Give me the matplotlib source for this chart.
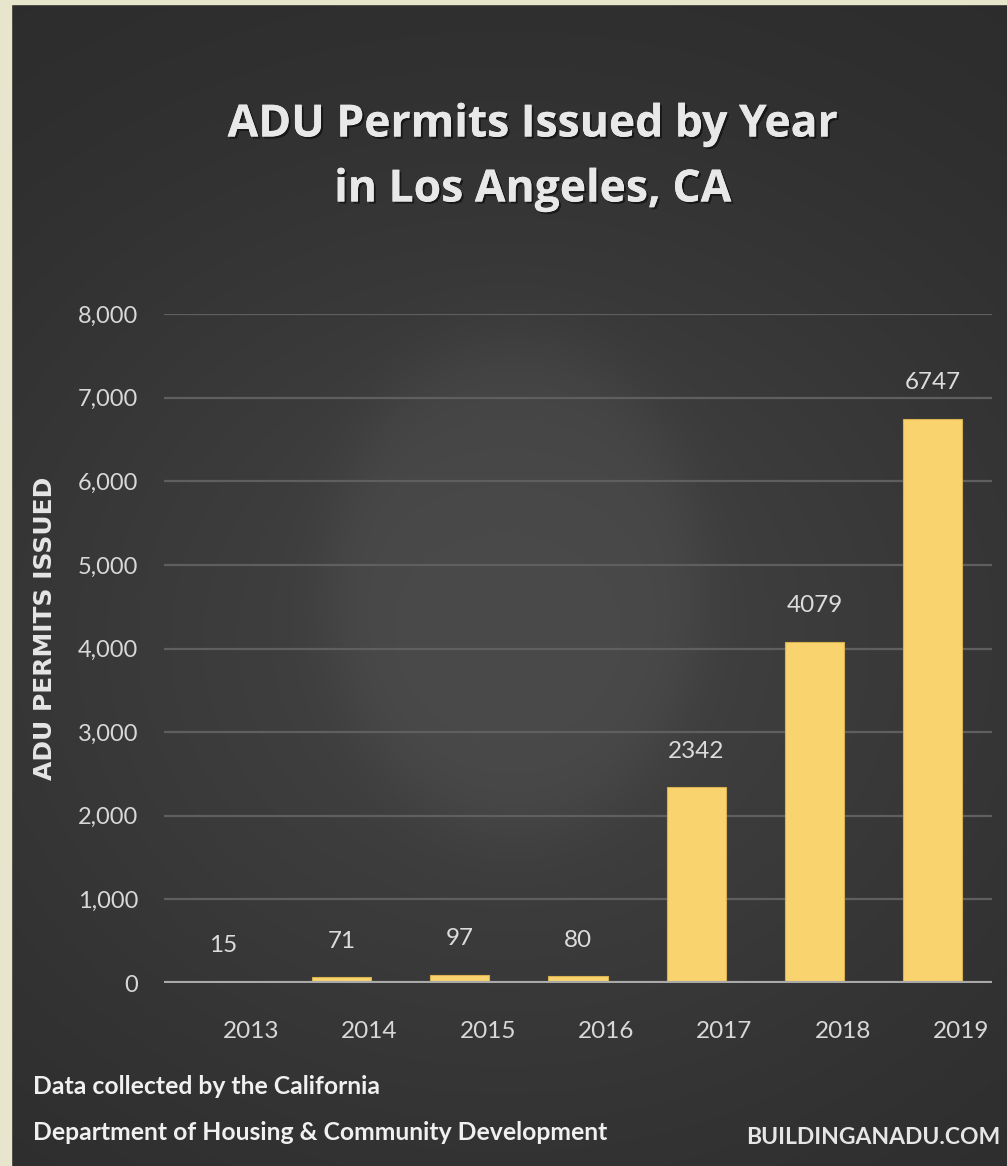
import numpy as np
import matplotlib
matplotlib.use("Agg")
import matplotlib.pyplot as plt
import matplotlib.patheffects as pe
from matplotlib.patches import Rectangle

years = ["2013", "2014", "2015", "2016", "2017", "2018", "2019"]
permits = [15, 71, 97, 80, 2342, 4079, 6747]
yticks = [0, 1000, 2000, 3000, 4000, 5000, 6000, 7000, 8000]
ytick_labels = ["0", "1,000", "2,000", "3,000", "4,000", "5,000", "6,000", "7,000", "8,000"]

W, H = 1007, 1166
fig = plt.figure(figsize=(W / 100, H / 100), dpi=100)

# background texture (vignette + central light ellipse)
bg_ax = fig.add_axes([0, 0, 1, 1], zorder=-10)
bg_ax.set_axis_off()
yy, xx = np.mgrid[0:H, 0:W]
xn = xx / W
yn = yy / H
base = 0.165 + 0.09 * np.exp(-((xn - 0.50) / 0.60) ** 2 - ((yn - 0.55) / 0.45) ** 2)
ell = np.sqrt(((xx - 515) / 185.0) ** 2 + ((yy - 585) / 245.0) ** 2)
base += 0.035 / (1 + np.exp((ell - 1.0) * 12))
img = np.dstack([base, base, base])
bg_ax.imshow(img, extent=[0, 1, 0, 1], aspect="auto", interpolation="bilinear")
bg_ax.set_xlim(0, 1)
bg_ax.set_ylim(0, 1)

# beige frame strips
fig.patches.append(Rectangle((0, 0), 11 / W, 1, transform=fig.transFigure,
                             color="#e8e5cd", zorder=5))
fig.patches.append(Rectangle((0, 1 - 4 / H), 1, 4 / H, transform=fig.transFigure,
                             color="#e8e5cd", zorder=5))

narrow = ["Lato", "DejaVu Sans"]
boldfam = ["Open Sans", "DejaVu Sans"]

ax = fig.add_axes([164 / W, 1 - 983 / H, (992 - 164) / W, (983 - 314) / H])
ax.patch.set_alpha(0)
x = np.arange(len(years))
ax.bar(x, permits, width=0.5, color="#f9d36d", edgecolor="#d9b24f", linewidth=0.8, zorder=3)
ax.set_xlim(-0.5, len(years) - 0.5)
ax.set_ylim(0, 8000)
ax.set_yticks(yticks)
ax.set_yticklabels(ytick_labels, family=narrow, fontsize=17, color="#d8d8d8")
ax.set_xticks(x)
ax.set_xticklabels([])
ax.tick_params(axis="both", length=0)
ax.tick_params(axis="y", pad=18.7)
for s in ax.spines.values():
    s.set_visible(False)
ax.grid(axis="y", color="#5f5f5f", linewidth=1.6, zorder=1)
ax.axhline(0, color="#a9a9a9", linewidth=3, zorder=4)

# category labels (shifted right of the bars, as in the original)
for xi, yr in zip(x, years):
    ax.annotate(yr, (xi, 0), xytext=(28, -49), textcoords="offset pixels",
                ha="center", va="center", family=narrow, fontsize=17.5, color="#d8d8d8",
                annotation_clip=False)

for xi, v in zip(x, permits):
    ax.annotate(str(v), (xi, v), xytext=(0, 36), textcoords="offset pixels",
                ha="center", va="center", family=narrow, fontsize=17.5, color="#dcdcdc")

fig.text(45 / W, 1 - 628 / H, "ADU PERMITS ISSUED", rotation=90, ha="center", va="center",
         family="DejaVu Sans", fontweight="bold", fontsize=18, color="#e6e6e6")

shadow = [pe.withSimplePatchShadow(offset=(1.5, -1.5), shadow_rgbFace="black", alpha=0.5), pe.Normal()]
fig.text(533 / W, 1 - 125 / H, "ADU Permits Issued by Year", ha="center", va="center",
         family=boldfam, fontweight="bold", fontsize=32, color="#e8e8e8", path_effects=shadow)
fig.text(533 / W, 1 - 190 / H, "in Los Angeles, CA", ha="center", va="center",
         family=boldfam, fontweight="bold", fontsize=32, color="#e8e8e8", path_effects=shadow)

fig.text(33 / W, 1 - 1087 / H, "Data collected by the California", ha="left", va="center",
         family=narrow, fontweight="bold", fontsize=17.8, color="#f0f0f0")
fig.text(33 / W, 1 - 1132 / H, "Department of Housing & Community Development", ha="left", va="center",
         family=narrow, fontweight="bold", fontsize=17.8, color="#f0f0f0")
fig.text(1000 / W, 1 - 1138 / H, "BUILDINGANADU.COM", ha="right", va="center",
         family=narrow, fontweight="bold", fontsize=16.5, color="#e6e6e6")

fig.savefig("out.png", dpi=100)
